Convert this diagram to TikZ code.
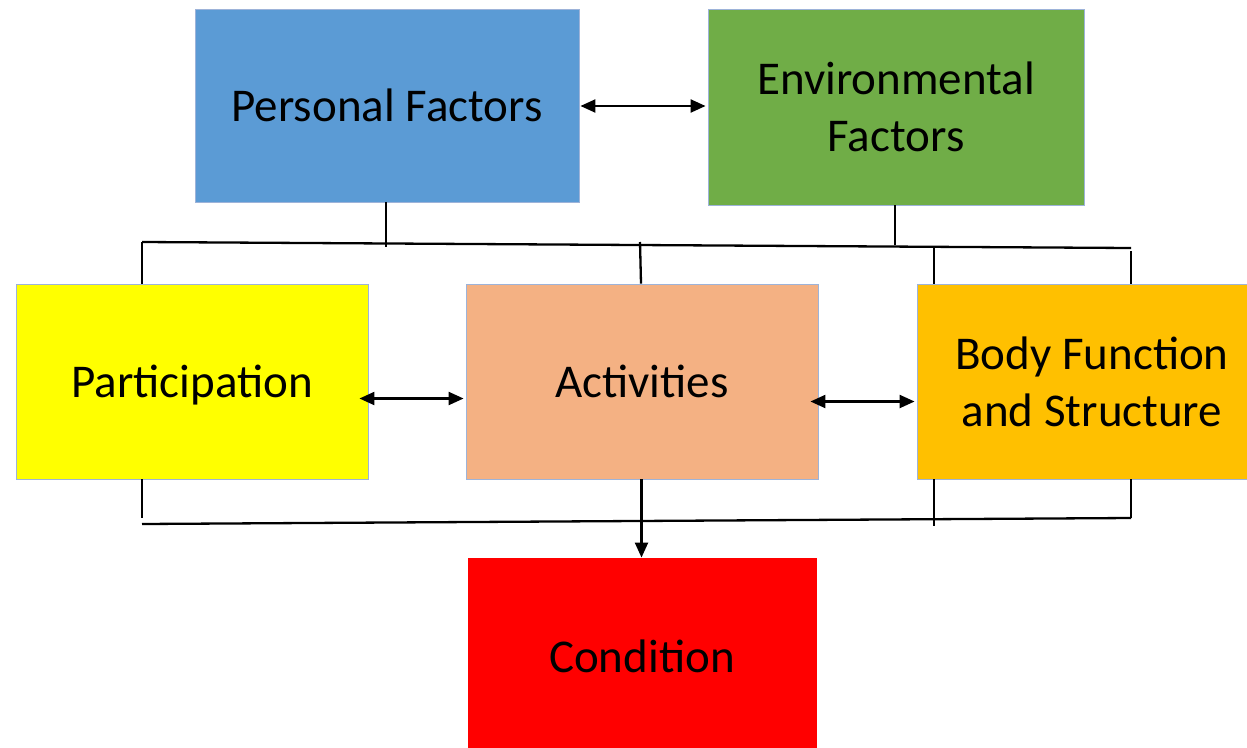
\documentclass[tikz,border=0pt]{standalone}
\usepackage{fontspec}
\setmainfont{Carlito}
\usetikzlibrary{arrows.meta}
\definecolor{pfblue}{HTML}{5B9BD5}
\definecolor{efgreen}{HTML}{70AD47}
\definecolor{payellow}{HTML}{FFFF00}
\definecolor{acsalmon}{HTML}{F4B183}
\definecolor{bforange}{HTML}{FFC000}
\definecolor{cored}{HTML}{FF0000}
\definecolor{boxedge}{HTML}{9DB3D9}
\tikzset{
  box/.style={draw=boxedge, line width=0.9pt, inner sep=0pt, align=center,
    font=\fontsize{47}{57}\selectfont},
  conn/.style={line width=2.3pt, black},
  dbl/.style={conn, {Triangle[length=15pt,width=13pt]}-{Triangle[length=15pt,width=13pt]}},
  sgl/.style={conn, -{Triangle[length=15pt,width=13pt]}}
}
\begin{document}
\begin{tikzpicture}[x=1pt,y=-1pt]
\useasboundingbox (0,0) rectangle (1247,747);
\fill[white] (0,0) rectangle (1247,747);
% boxes
\node[box, fill=pfblue, minimum width=384pt, minimum height=193pt] (pf) at (387,105.5) {Personal Factors};
\node[box, fill=efgreen, minimum width=376pt, minimum height=196pt] (ef) at (896,107) {Environmental\\Factors};
\node[box, fill=payellow, minimum width=352pt, minimum height=195pt, text depth=0pt] (pa) at (192,381.5) {Participation};
\node[box, fill=acsalmon, minimum width=352pt, minimum height=195pt] (ac) at (642,381.5) {Activities};
\node[box, fill=bforange, minimum width=350pt, minimum height=195pt] (bf) at (1092,381.5) {Body Function\\and Structure};
\node[box, fill=cored, draw=cored, minimum width=348pt, minimum height=196pt] (co) at (642,656) {Condition};
% top bus
\coordinate (tl) at (142,242);
\coordinate (tr) at (1131,248);
\coordinate (tpf) at (386,247);
\coordinate (tef) at (895,245);
\coordinate (tac) at (640,242);
\coordinate (tbf1) at (934,248);
\coordinate (tbf2) at (1131,251);
\draw[conn] (tl) -- (tr);
\draw[conn] (pf.south -| tpf) -- (tpf);
\draw[conn] (ef.south -| tef) -- (tef);
\draw[conn] (tl) -- (pa.north -| tl);
\draw[conn] (tac) -- ([xshift=1pt]ac.north -| tac);
\draw[conn] (tbf1) -- (bf.north -| tbf1);
\draw[conn] (tbf2) -- (bf.north -| tbf2);
% bottom bus
\coordinate (bl) at (142,524);
\coordinate (br) at (1131,518);
\coordinate (bpa) at (142,518);
\coordinate (bbf1) at (934,526);
\draw[conn] (bl) -- (br);
\draw[conn] (pa.south -| bpa) -- (bpa);
\draw[conn] (bf.south -| bbf1) -- (bbf1);
\draw[conn] (bf.south -| br) -- (br);
\draw[sgl] ([xshift=-0.5pt]ac.south) -- ([xshift=-0.5pt]co.north);
% horizontal double arrows
\draw[dbl] ([xshift=1pt,yshift=-0.5pt]pf.east) -- ([xshift=-2pt,yshift=-0.5pt]pf.east -| ef.west);
\draw[dbl] ([xshift=-9pt,yshift=-17pt]pa.east) -- ([xshift=-2pt,yshift=-17pt]pa.east -| ac.west);
\draw[dbl] ([xshift=-8pt,yshift=-20pt]ac.east) -- ([xshift=-2pt,yshift=-20pt]ac.east -| bf.west);
\end{tikzpicture}
\end{document}
